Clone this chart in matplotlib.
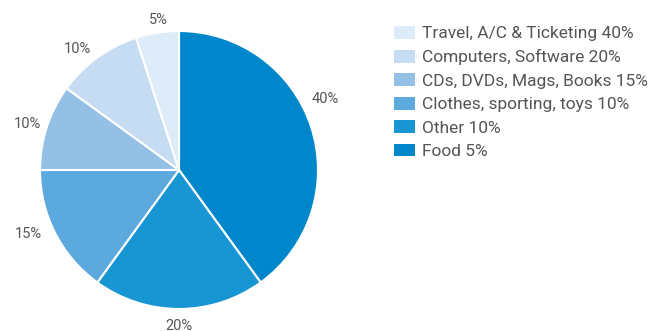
import numpy as np
import matplotlib.pyplot as plt
from matplotlib.patches import Patch

# spending by category, drawn clockwise from 12 o'clock
shares = [40, 20, 15, 10, 10, 5]
slice_colors = ['#0086cb', '#1896d4', '#5ca9dd', '#95c0e6', '#c6dcf2', '#deebf8']

legend_labels = ['Travel, A/C & Ticketing 40%', 'Computers, Software 20%',
                 'CDs, DVDs, Mags, Books 15%', 'Clothes, sporting, toys 10%',
                 'Other 10%', 'Food 5%']
legend_colors = ['#deebf8', '#c6dcf2', '#95c0e6', '#5ca9dd', '#1896d4', '#0086cb']

# label placement around the rim: angle shift (deg) and radius
label_shift = [8, 0, -4, 1, 4, -1]
label_rad = [1.17, 1.12, 1.18, 1.14, 1.14, 1.09]

plt.rcParams['font.family'] = ['Roboto', 'DejaVu Sans']
txt = '#555555'

fig = plt.figure(figsize=(6.72, 3.31), dpi=100)
W, H = 672, 331
cx, cy, r = 179, 170, 139
ax = fig.add_axes([(cx - r) / W, (H - cy - r) / H, 2 * r / W, 2 * r / H])

wedges, _ = ax.pie(shares, colors=slice_colors, startangle=90, counterclock=False,
                   wedgeprops=dict(edgecolor='white', linewidth=1.5))
for w, v, da, rr in zip(wedges, shares, label_shift, label_rad):
    mid = np.deg2rad((w.theta1 + w.theta2) / 2 + da)
    ax.text(rr * np.cos(mid), rr * np.sin(mid), f'{v}%', ha='center', va='center',
            color=txt, fontsize=10.5, clip_on=False)
ax.set_xlim(-1, 1)
ax.set_ylim(-1, 1)
ax.set_aspect('equal')

handles = [Patch(facecolor=c, edgecolor='none') for c in legend_colors]
fig.legend(handles, legend_labels, loc='upper left', bbox_to_anchor=(394 / W, 1 - 26 / H),
           frameon=False, borderpad=0, borderaxespad=0,
           prop=dict(size=12.5), labelcolor=txt, handlelength=1.2,
           handleheight=0.75, handletextpad=0.4, labelspacing=0.46)

fig.savefig('out.png', dpi=100)
